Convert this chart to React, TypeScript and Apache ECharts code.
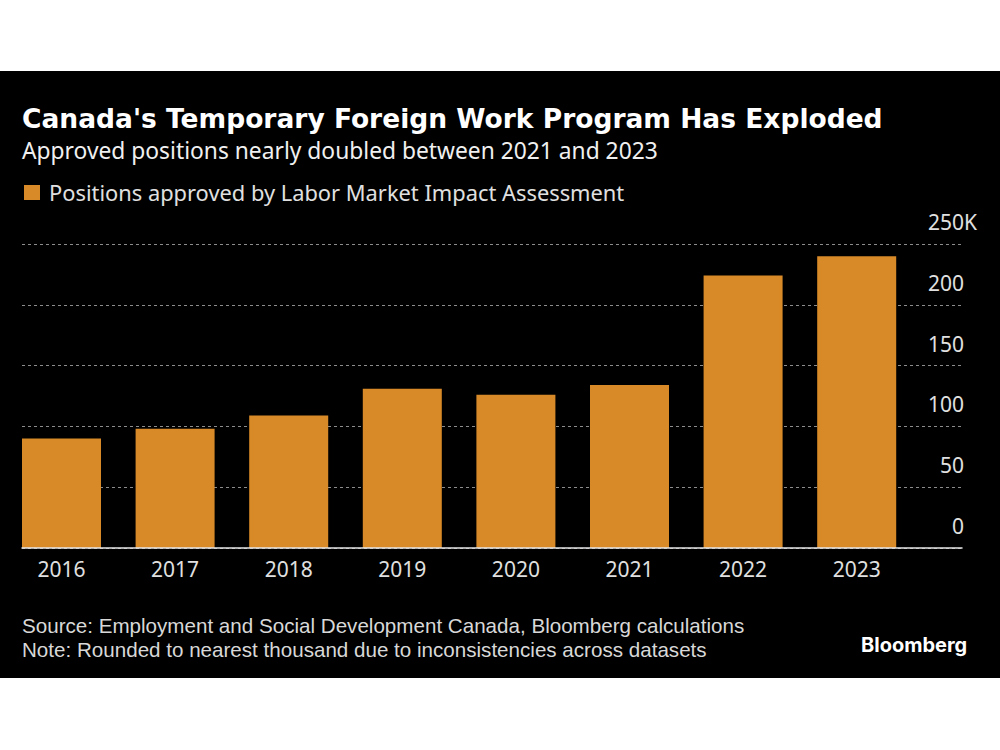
import React, { useEffect, useRef } from "react";
import * as echarts from "echarts";

const years = ["2016", "2017", "2018", "2019", "2020", "2021", "2022", "2023"];
const approved = [90, 98, 109, 131, 126, 134, 224, 240];
const seriesName = "Positions approved by Labor Market Impact Assessment";
const title = "Canada's Temporary Foreign Work Program Has Exploded";
const subtitle = "Approved positions nearly doubled between 2021 and 2023";
const sourceLine = "Source: Employment and Social Development Canada, Bloomberg calculations";
const noteLine = "Note: Rounded to nearest thousand due to inconsistencies across datasets";
const yMin = 0;
const yMax = 250;
const yStep = 50;

const SANS = '"Noto Sans", "Open Sans", sans-serif';
const FOOT = '"Liberation Sans", Arial, sans-serif';

export default function App() {
  const ref = useRef<HTMLDivElement>(null);
  useEffect(() => {
    if (!ref.current) return;
    const chart = echarts.init(ref.current, undefined, { renderer: "svg" });
    const top = 244;
    const height = 304;
    chart.setOption({
      animation: false,
      backgroundColor: "#ffffff",
      graphic: [
        { type: "rect", z: -10, shape: { x: 0, y: 71, width: 1000, height: 607 }, style: { fill: "#000000" } },
        {
          type: "text", x: 22, y: 118,
          style: { text: title, fill: "#ffffff", fontSize: 26.5, fontWeight: "bold", fontFamily: '"DejaVu Sans", Verdana, sans-serif', verticalAlign: "middle" },
        },
        {
          type: "text", x: 22, y: 150,
          style: { text: subtitle, fill: "#f0f0f0", fontSize: 22.8, fontFamily: SANS, verticalAlign: "middle" },
        },
        {
          type: "text", x: 22, y: 625,
          style: { text: sourceLine, fill: "#d8d8d8", fontSize: 20.6, lineHeight: 22, fontFamily: FOOT, verticalAlign: "middle" },
        },
        {
          type: "text", x: 22, y: 649,
          style: { text: noteLine, fill: "#d8d8d8", fontSize: 20.6, lineHeight: 22, fontFamily: FOOT, verticalAlign: "middle" },
        },
        {
          type: "text", x: 861, y: 645,
          style: { text: "Bloomberg", fill: "#ffffff", fontSize: 20, fontWeight: "bold", fontFamily: '"Inter", "Noto Sans", sans-serif', verticalAlign: "middle" },
        },
      ],
      legend: {
        show: true,
        left: 24,
        top: 180,
        padding: 0,
        itemWidth: 16,
        itemHeight: 15,
        icon: "rect",
        data: [seriesName],
        textStyle: { color: "#e0e0e0", fontSize: 21.85, fontFamily: SANS, lineHeight: 25, padding: [0, 0, 0, 4] },
      },
      grid: [
        { left: 4.7, width: 908.8, top, height, containLabel: false },
        { left: 22, right: 38, top, height, containLabel: false },
      ],
      xAxis: [
        {
          type: "category",
          gridIndex: 0,
          data: years,
          boundaryGap: true,
          axisLine: { show: false },
          axisTick: { show: false },
          axisLabel: { color: "#e0e0e0", fontSize: 21, fontFamily: SANS, margin: 10, lineHeight: 21 },
        },
        {
          type: "value",
          gridIndex: 1,
          min: 0,
          max: 1,
          z: 5,
          axisLine: { show: true, lineStyle: { color: "#e6e6e6", width: 1.5 } },
          axisTick: { show: false },
          axisLabel: { show: false },
          splitLine: { show: false },
        },
      ],
      yAxis: [
        {
          type: "value",
          gridIndex: 0,
          min: yMin,
          max: yMax,
          interval: yStep,
          show: false,
        },
        {
          type: "value",
          gridIndex: 1,
          position: "right",
          min: yMin,
          max: yMax,
          interval: yStep,
          axisLine: { show: false },
          axisTick: { show: false },
          splitLine: { show: true, lineStyle: { color: "#8c8c8c", type: [3, 3], width: 1 } },
          axisLabel: {
            margin: 15,
            align: "right",
            verticalAlign: "bottom",
            lineHeight: 44,
            color: "#e0e0e0",
            fontSize: 21,
            fontFamily: SANS,
            formatter: (v: number) => (v === yMax ? `{n|${v}}{k|K}` : `{n|${v}}{s| }`),
            rich: {
              n: { color: "#e0e0e0", fontSize: 21, fontFamily: SANS, lineHeight: 44 },
              k: { color: "#e0e0e0", fontSize: 21, fontFamily: SANS, lineHeight: 44, width: 13 },
              s: { fontSize: 21, fontFamily: SANS, lineHeight: 44, width: 13 },
            },
          },
        },
      ],
      series: [
        {
          name: seriesName,
          type: "bar",
          xAxisIndex: 0,
          yAxisIndex: 0,
          data: approved,
          barWidth: 79,
          itemStyle: { color: "#D98A28" },
        },
      ],
    });
    return () => chart.dispose();
  }, []);
  return <div ref={ref} style={{ position: "absolute", left: 0, top: 0, width: 1000, height: 750 }} />;
}
